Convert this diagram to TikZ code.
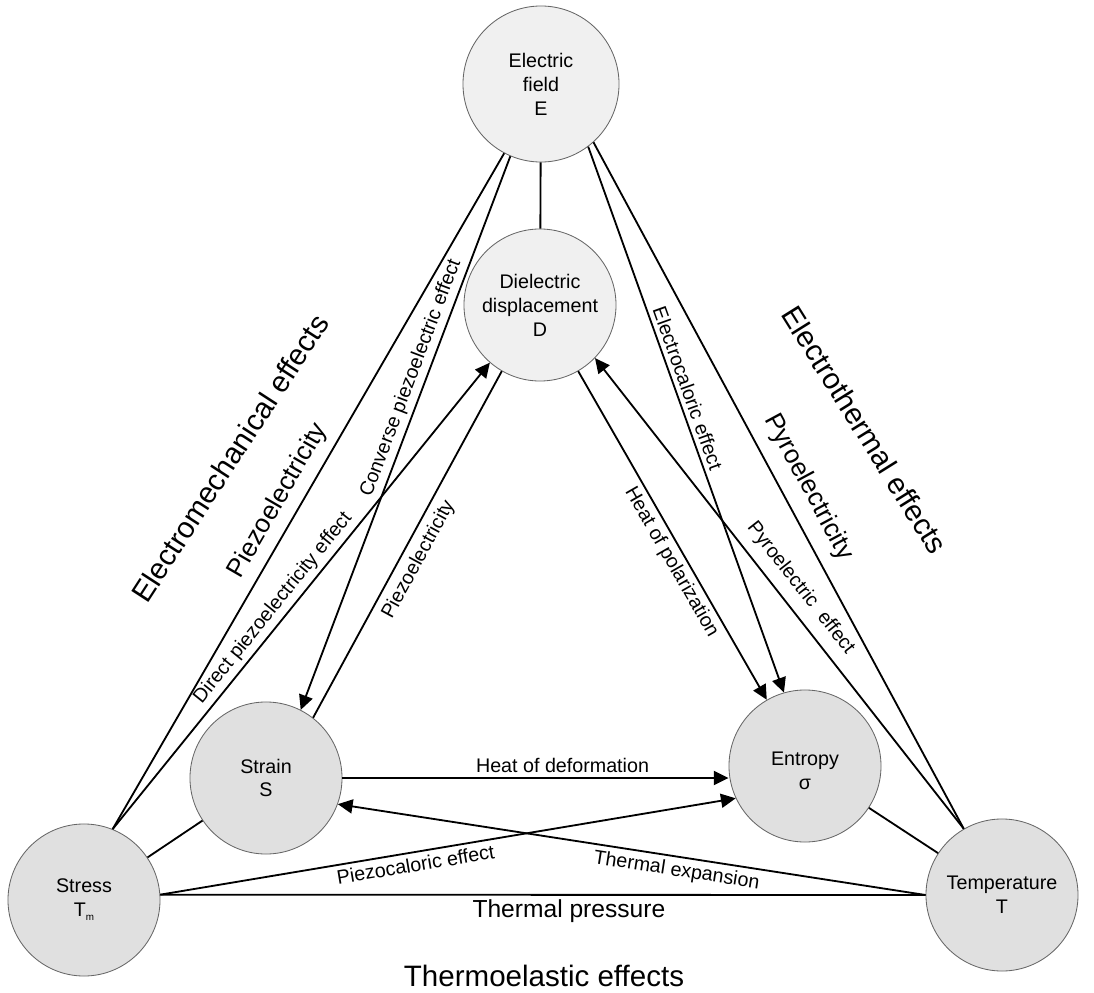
\documentclass[tikz,border=0pt]{standalone}
\usepackage{fontspec}
\setmainfont{Liberation Sans}
\usetikzlibrary{arrows.meta}

\begin{document}
\begin{tikzpicture}[x=0.025cm, y=-0.025cm,
quantity/.style={circle, draw=black!60, line width=0.6pt, fill=black!12,
minimum size=3.8cm, inner sep=0pt, align=center,
font=\fontsize{14}{17}\selectfont},
link/.style={line width=1.3pt},
effect/.style={link, -{Triangle[length=10.5pt, width=10pt]}},
lbl/.style={sloped, inner sep=3pt, font=\fontsize{14}{17}\selectfont},
famlbl/.style={lbl, inner sep=6pt, font=\fontsize{18.5}{22}\selectfont},
biglbl/.style={font=\fontsize{21}{25}\selectfont}]
\useasboundingbox (0,0) rectangle (1094,993);

\node[quantity, fill=black!6, minimum size=3.9cm] (E) at (541,84) {Electric\\field\\E};
\node[quantity, fill=black!6] (D) at (540,305) {Dielectric\\displacement\\D};
\node[quantity] (S) at (266,778) {Strain\\S};
\node[quantity] (St) at (84,900) {Stress\\T{\fontsize{7}{8}\selectfont\raisebox{-3pt}{m}}};
\node[quantity] (En) at (805,766) {\mbox{}\\Entropy\\σ};
\node[quantity] (T) at (1002,895) {Temperature\\T};

\node[biglbl, rotate=57] (emech) at (230,458) {Electromechanical effects};
\node[biglbl, rotate=-58] (etherm) at (865,430) {Electrothermal effects};
\node[biglbl] (telast) at (544,976) {Thermoelastic effects};

\draw[link] (E) -- (D);
\draw[link] (St.68) -- node[famlbl, above, pos=0.47] {Piezoelectricity} (E.242);
\draw[effect] (St.68) -- node[lbl, above, pos=0.455] {Direct piezoelectricity effect} (D.229);
\draw[effect] (E.247) -- node[lbl, above, pos=0.41] {Converse piezoelectric effect} (S.63);
\draw[link] (S.52) -- node[lbl, below, pos=0.48, inner sep=5pt] {Piezoelectricity} (D.240);
\draw[effect] (E.307) -- node[lbl, above, pos=0.45] {Electrocaloric effect} (En.106);
\draw[link] (E.312) -- node[famlbl, above, pos=0.52, inner sep=9pt] {Pyroelectricity} (T.120);
\draw[effect] (T.120) -- node[lbl, above, pos=0.485, inner sep=7pt] {Pyroelectric~~effect} (D.316);
\draw[effect] (D.300) -- node[lbl, below, pos=0.56] {Heat of polarization} (En.120);
\draw[effect] (S.east) -- node[lbl, above, pos=0.57] {Heat of deformation} (S.east -| En.west);
\draw[effect] (T.west) -- node[lbl, below, pos=0.42] {Thermal expansion} (S.340);
\draw[effect] (St.4) -- node[lbl, below, pos=0.44] {Piezocaloric effect} (En.205);
\draw[link] (St.4) -- node[lbl, below, pos=0.534, font=\fontsize{17.5}{21}\selectfont] {Thermal pressure} (T.west);
\draw[link] (St) -- (S);
\draw[link] (En) -- (T);
\end{tikzpicture}
\end{document}
